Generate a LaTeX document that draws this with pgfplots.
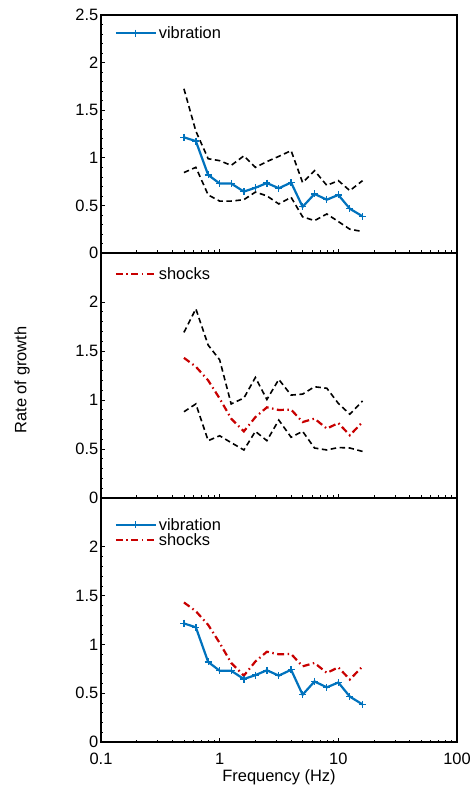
\documentclass[border=0pt]{standalone}
\usepackage{fontspec}
\setmainfont{Liberation Sans}
\usepackage{pgfplots}
\pgfplotsset{compat=1.18}
\definecolor{vib}{RGB}{0,114,189}
\definecolor{shk}{RGB}{200,0,0}

\pgfplotstableread{
f     vib    vup    vlo    shk    sup    slo
0.5   1.215  1.725  0.845  1.43   1.69   0.88
0.63  1.175  1.28   0.90   1.34   1.93   0.96
0.8   0.82   0.99   0.61   1.20   1.56   0.585
1     0.73   0.97   0.545  1.015  1.41   0.635
1.25  0.73   0.92   0.545  0.81   0.96   0.565
1.6   0.645  1.02   0.56   0.68   1.02   0.49
2     0.685  0.90   0.64   0.825  1.23   0.68
2.5   0.735  0.96   0.60   0.925  1.005  0.585
3.15  0.68   1.015  0.515  0.898  1.21   0.795
4     0.74   1.075  0.585  0.902  1.05   0.62
5     0.485  0.74   0.38   0.775  1.06   0.68
6.3   0.62   0.865  0.34   0.81   1.135  0.51
8     0.56   0.71   0.41   0.708  1.12   0.49
10    0.61   0.76   0.33   0.765  0.965  0.515
12.5  0.465  0.655  0.25   0.64   0.855  0.51
16    0.385  0.76   0.225  0.775  0.99   0.475
}\data

\newcommand{\fs}{\fontsize{16.5}{18}\selectfont}
\pgfplotsset{
  legend image code/.code={\draw[mark repeat=2,mark phase=2,#1] plot coordinates {(0bp,0bp) (20bp,0bp) (40bp,0bp)};},
  every axis/.append style={
    xmin=0.1, xmax=100, ymin=0, ymax=2.5,
    width=356bp, scale only axis,
    axis line style={line width=1.1bp},
    tick style={black, line width=0.6bp},
    major tick length=4bp, minor tick length=2.5bp,
    tick align=inside, xtick pos=bottom, ytick pos=left,
    minor y tick num=4,
    xtick={0.1,1,10,100},
    /pgf/number format/assume math mode=true,
    yticklabel style={font=\fs, inner sep=1bp, xshift=-1.5bp},
    legend style={draw=none, fill=none, at={(0.035,0.965)}, anchor=north west,
      font=\fs, row sep=-2bp, inner sep=1bp},
    legend cell align=left,
  },
  vibs/.style={color=vib, line width=2.2bp, mark=+, mark size=3.5bp, mark options={solid, line width=1.3bp}},
  shks/.style={color=shk, line width=2.2bp, dash pattern=on 7bp off 3.5bp on 1.5bp off 3.5bp},
  bnd/.style={black, line width=1.6bp, dash pattern=on 5.5bp off 3.5bp, forget plot},
}

\begin{document}
\begin{tikzpicture}
\useasboundingbox (0bp,0bp) rectangle (470bp,789bp);

\begin{semilogxaxis}[at={(101bp,536bp)}, anchor=south west, height=238bp,
  ytick={0,0.5,1,1.5,2,2.5}, xticklabels=\empty]
  \addplot[bnd] table[x=f,y=vup] {\data};
  \addplot[bnd] table[x=f,y=vlo] {\data};
  \addplot[vibs] table[x=f,y=vib] {\data};
  \addlegendentry{vibration}
\end{semilogxaxis}

\begin{semilogxaxis}[at={(101bp,291bp)}, anchor=south west, height=245bp,
  ytick={0,0.5,1,1.5,2}, xticklabels=\empty, legend style={at={(0.035,0.955)}}]
  \addplot[bnd] table[x=f,y=sup] {\data};
  \addplot[bnd] table[x=f,y=slo] {\data};
  \addplot[shks] table[x=f,y=shk] {\data};
  \addlegendentry{shocks}
\end{semilogxaxis}

\begin{semilogxaxis}[at={(101bp,47bp)}, anchor=south west, height=244bp,
  ytick={0,0.5,1,1.5,2},
  legend style={at={(0.035,0.93)}},
  xticklabels={0.1,1,10,100},
  xticklabel style={font=\fs, yshift=-8bp},
  xlabel={Frequency (Hz)},
  xlabel style={font=\fs, yshift=2bp}]
  \addplot[vibs] table[x=f,y=vib] {\data};
  \addlegendentry{vibration}
  \addplot[shks] table[x=f,y=shk] {\data};
  \addlegendentry{shocks}
\end{semilogxaxis}

\node[rotate=90, font=\fs] at (22bp,409bp) {Rate of growth};
\end{tikzpicture}
\end{document}
